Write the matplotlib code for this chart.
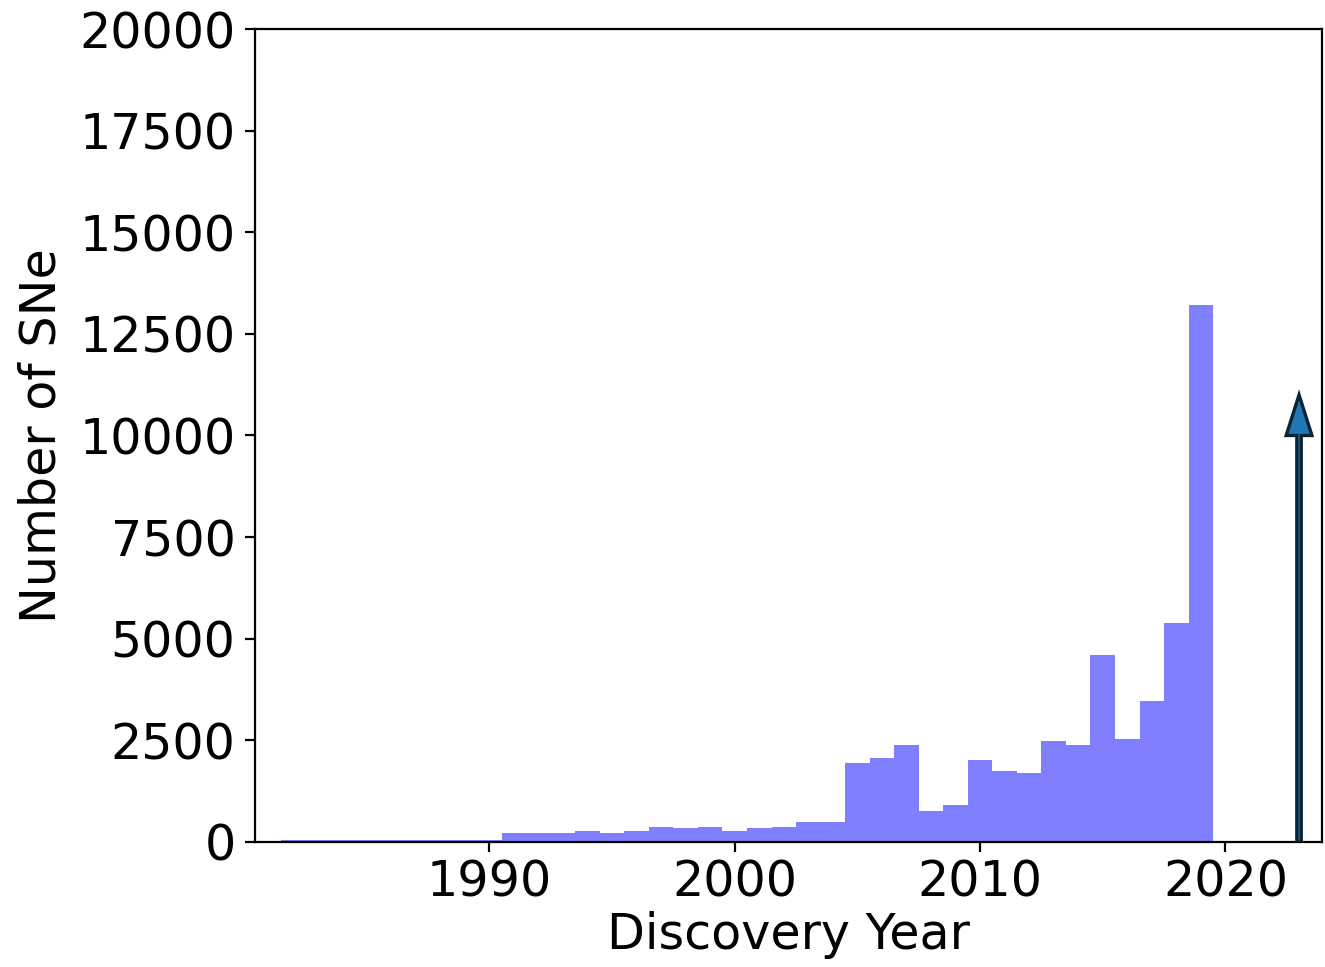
import matplotlib
matplotlib.use("Agg")
import matplotlib.pyplot as plt

# Supernova discoveries per year
years = list(range(1982, 2020))
counts = [60, 60, 60, 60, 60, 60, 60, 60, 60,
          220, 220, 225, 280, 215, 270, 375, 335, 375, 270,
          335, 375, 490, 490, 1950, 2060, 2390, 770, 920, 2020,
          1750, 1690, 2490, 2390, 4600, 2535, 3480, 5380, 13200]

# Expected yearly yield indicated by the arrow
arrow_year = 2023
arrow_count = 10000

yticks = [0, 2500, 5000, 7500, 10000, 12500, 15000, 17500, 20000]
xticks = [1990, 2000, 2010, 2020]

plt.rcParams["font.size"] = 17.7

fig = plt.figure(figsize=(6.625, 4.835), dpi=200)
ax = fig.add_axes([0.1925, 0.1293, 0.8055, 0.8407])

ax.bar(years, counts, width=1.0, color="blue", alpha=0.5, linewidth=0)
ax.arrow(arrow_year, 0, 0, arrow_count, width=0.18, head_width=1.05,
         head_length=1000, fc="C0", ec="#0a2433", lw=1.2, zorder=3)

ax.set_xlim(1980.45, 2023.95)
ax.set_ylim(0, 20000)
ax.set_xticks(xticks)
ax.set_yticks(yticks)
ax.tick_params(axis="x", pad=2.5)
ax.set_xlabel("Discovery Year", labelpad=1.5)
ax.set_ylabel("Number of SNe", labelpad=5)

fig.savefig("out.png", dpi=200)
